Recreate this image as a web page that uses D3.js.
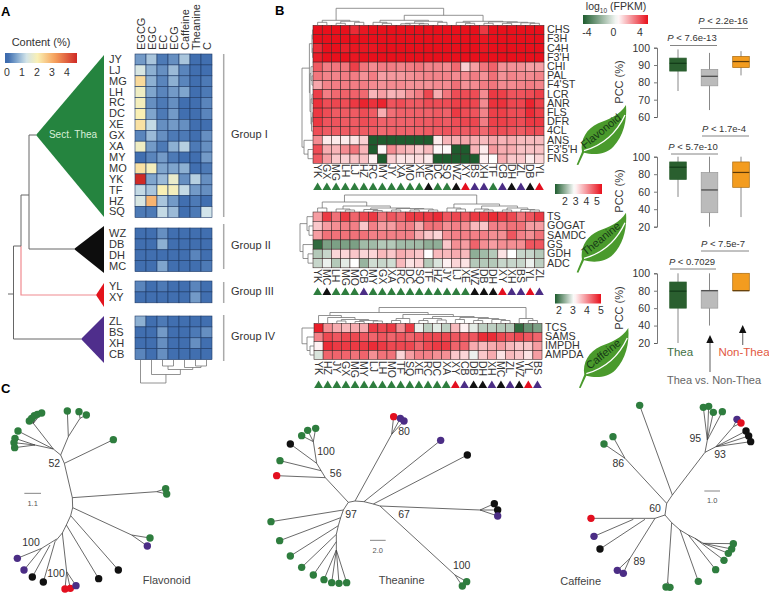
<!DOCTYPE html>
<html><head><meta charset="utf-8">
<script src="https://cdn.jsdelivr.net/npm/d3@7"></script>
<style>html,body{margin:0;background:#fff}svg{display:block;font-family:"Liberation Sans",Arial,sans-serif}text{fill:#333}</style>
</head><body><svg id="c" width="769" height="593"></svg>
<script>
// ---------- Panel A data ----------
const contentCompounds=["EGCG","EGC","EC","ECG","Caffeine","Theanine","C"];
const groupIRows=["JY","LJ","MG","LH","RC","DC","XE","GX","XA","MY","MO","YK","TF","HZ","SQ"];
const groupIIRows=["WZ","DB","DH","MC"];
const groupIIIRows=["YL","XY"];
const groupIVRows=["ZL","BS","XH","CB"];
const groupIValues=[[.6,1,.3,.5,1,.2,.2],[1.4,.8,.5,.9,.4,.2,.2],[2.3,.8,.4,.8,.4,.2,.3],[1.8,.7,.4,.6,.7,.2,.3],[1.9,.5,.3,.5,.2,.2,.4],[2,.7,.3,.6,.2,.2,.4],[2.2,1.2,.5,.6,.5,.2,.2],[.4,.9,.5,.3,.3,.2,.5],[1.8,.6,.3,.8,1.1,.3,.5],[.2,.4,.6,.3,.2,.2,.6],[2.2,1.9,.7,.7,.8,.2,.3],[4.4,.7,.9,1.7,.5,1.1,.5],[1.2,1,2,1.9,1.2,.6,.5],[1.4,2.8,1,.6,.2,.3,.2],[.3,.3,1.2,.9,.2,.3,1.3]];
const groupIIValues=[[.2,.2,.5,.2,.2,.2,.2],[.2,.2,.8,.2,.2,.2,.2],[.2,.2,.2,.2,.2,.4,.2],[.2,.2,.7,.2,.2,.2,.3]];
const groupIIIValues=[[.4,.2,.3,.2,.2,.4,.2],[.2,.2,.2,.2,.2,.6,.2]];
const groupIVValues=[[.8,.2,.3,.2,.2,.2,.2],[.2,.2,.6,.2,.2,.3,.5],[.2,.2,.5,.2,.2,.5,.2],[.4,.2,.5,.2,.2,.2,.2]];
const compoundTree=[23,0,[14.5,1,[9.5,[6,2,3],[7.5,4,[6,5,6]]]]];
const contentTicks=[0,1,2,3,4];
// ---------- Panel B data ----------
const flavonoidCols=["YK","GX","MG","LH","LJ","HZ","RC","MY","JY","XA","MO","XE","MC","DC","SQ","WZ","XY","BS","XH","TF","CB","DH","ZL","DB","YL"];
const flavonoidGenes=["CHS","F3H","C4H","F3'H","CHI","PAL","F4'ST","LCR","ANR","FLS","DFR","4CL","ANS","F3'5'H","FNS"];
const flavonoidValues=[
[3.5,3.6,3.7,3.5,3.1,3.4,3.6,3.6,3.6,3.6,3.6,3.6,3.6,3.5,3.5,3.6,3.5,3.7,2.9,3.5,3.7,3.7,3.7,3.7,3.7],
[3.6,3.8,3.7,3.6,3.5,3.5,3.7,3.8,3.7,3.7,3.7,3.7,3.7,3.6,3.7,3.7,3.7,3.7,3.4,3.7,3.8,3.8,3.8,3.8,3.8],
[3.1,3.5,3.6,3.3,3.4,3.4,3.4,3.6,3.5,3.6,3.5,3.6,3.6,3.5,3.5,3.6,3.5,3.6,3.4,3.6,3.7,3.7,3.7,3.7,3.7],
[3.3,3.7,3.7,3.7,3.4,3.6,3.8,3.8,3.7,3.7,3.6,3.7,3.7,3.6,3.6,3.6,3.6,3.7,3.5,3.7,3.7,3.7,3.7,3.7,3.7],
[2.4,1.9,2,2,2.8,2,1.7,1.9,1.9,1.8,1.9,2,1.8,1.8,1.7,2.2,.7,1.4,2,2.3,1.6,1.6,1.6,1.4,1.4],
[2,1.8,1.8,1.9,1.9,1.6,1.9,1.4,1.5,1.5,1.6,1.7,1.8,1.8,1.8,1.7,1.7,1.9,1.6,2.1,1.6,1.8,1.7,1.7,1.8],
[1.3,1.8,1.9,1.9,1.9,1.9,1.7,1.6,1.7,1.7,1.6,1.6,1.6,1.7,1.7,2.1,1.6,1.7,1.9,2,1.7,1.7,1.8,1.9,1.8],
[2.8,1.9,2.2,2.3,2.3,2.2,1.1,1.4,1.1,1.2,1.6,1.9,2.7,1.2,2,2.6,2.6,2.6,1.7,2.9,2.8,2.5,2.5,2.6,2.8],
[3,2.6,2.7,2.6,2.9,3.2,3,3.2,2.5,2.6,2.4,2.4,2.6,2.6,2.6,2.8,2.8,2.7,1.7,3,3,2.7,2.7,3.2,2.8],
[2.9,2.6,2.4,2.4,2.4,2.6,2.4,1.2,2.1,2.3,2.3,2.3,2.3,2.4,2.3,2.9,2.6,2.5,1.8,2.8,2.8,2.6,2.6,3.1,2.8],
[2.9,2.5,2.5,2.4,2.4,2.6,2.5,2.3,2.3,2.3,2.3,2.4,2.4,2.5,2.4,2.6,2.7,2.7,1.9,2.8,2.8,2.7,2.6,2.9,2.9],
[2.6,2.4,2.4,2.4,2.4,2.4,2.4,2.2,2.3,2.3,2.3,2.3,2.4,2.4,2.5,2.5,2.4,2.5,2.2,2.6,2.6,2.5,2.4,2.6,2.6],
[1.7,.3,.3,.3,.4,.7,-4,-4,-4,-4,-4,-4,-4,.3,1.1,1.2,1.3,1.2,1,1.3,1.1,1.2,1,1,1],
[2.6,1.2,1.1,1.7,2,1.1,-4,.1,1.7,1.2,1,.7,1,.1,.1,-4,-4,1.1,.3,1.5,1.2,1.2,.9,.9,.9],
[2.4,1.4,.8,.7,.9,.9,.2,-4,.7,.4,.4,.5,.3,-4,-4,-4,-4,-4,.2,0,1.2,.8,.8,.3,.6]];
const flavonoidColTree=[17,[5,[3,0,1],[4,[2,2,3],[3,4,5]]],[10,[5,[3,6,[2,7,8]],[4,[2,[1.5,9,10],[1.5,11,12]],[3,13,14]]],[4,[3,15,[2,16,17]],[3.5,[2,18,19],[3,[2,20,21],[2.5,22,[2,23,24]]]]]]];
const flavonoidRowTree=[11,[3.6,[1,[.5,0,1],[.5,2,3]],[3,[2,4,[1,5,6]],[2,[1,7,8],[1.5,[.6,9,10],11]]]],[9,12,[5,13,14]]];
const theanineCols=["YK","MC","LH","MG","MO","CB","MY","GX","XA","RC","DC","SQ","TF","HZ","JY","LJ","XE","WZ","DB","DH","XY","XH","BS","YL","ZL"];
const theanineGenes=["TS","GOGAT","SAMDC","GS","GDH","ADC"];
const theanineValues=[
[3.9,4.6,4.2,4.6,4.3,4.5,4.6,4.2,4.4,4.3,4.6,4.6,4.6,4.7,4.4,4.5,4.4,4.6,4.6,4.7,4.6,4.5,4.2,4.4,4.6],
[3.6,3.9,4,4.1,4.1,3.6,4.1,3.9,3.9,4.1,4.1,3.8,4.2,4.2,4,4.1,4,3.7,3.6,4.1,4.1,4.2,4.2,3.9,3.9],
[3.9,4.2,4.2,4.2,4.2,4.2,4.1,4.1,4.1,4.1,4.1,3.8,3.6,3.5,4,4.1,4.1,4.1,4.1,4,4,4.4,4.1,4,4.2],
[2.1,2.5,2.5,2.5,2.5,2.7,2.7,2.8,2.8,2.7,2.7,2.7,2.6,2.6,3.6,4,3.9,4.3,4,3.9,4,4,4,4.4,4.4],
[2.8,2.9,3.5,3.5,3.6,3.5,3.5,3.7,3.6,3.8,3.7,3.6,3.2,3.7,3.7,3.8,3.7,2.6,2.7,2.8,3.4,3.2,2.9,2.9,2.8],
[2.9,3.1,2.8,3.05,3.2,2.65,2.95,2.9,2.95,3.7,3.4,3.5,2.8,3,3.3,3.5,3.4,2.8,2.8,2.8,2.9,2.9,2.9,3.1,2.85]];
const theanineColTree=[17,[10,[4,0,1],[6,[3,2,[2,3,4]],[4,[2.5,5,[1.5,6,7]],[3.5,[2,8,9],[3,[2,10,11],[2,12,13]]]]]],[8,[4,14,[3,15,16]],[6,[3,17,[2,18,19]],[4,[2,20,21],[2.5,22,[2,23,24]]]]]];
const theanineRowTree=[13,[6,0,[4,1,2]],[10,3,[5,4,5]]];
const caffeineCols=["YK","HZ","JY","GX","MG","MY","LJ","LH","MO","TF","SQ","XE","RC","DC","XA","XY","CB","DB","DH","XH","MC","ZL","WZ","YL","BS"];
const caffeineGenes=["TCS","SAMS","IMPDH","AMPDA"];
const caffeineValues=[
[4.8,4,3.8,3.7,3.8,3.8,4.6,4.5,4.6,4,4.6,3.1,2.85,3.05,2.85,3.7,3.3,3.05,2.85,2.85,2.8,2.8,2.1,2.4,2.5],
[4.1,4.5,4.4,4.5,4.5,4.4,4.3,4.4,4.3,4.4,4.3,4.4,4.5,4.5,4.5,4.4,4.4,4.4,4.7,4.7,4.5,4.4,4.5,4.4,4.3],
[3.3,4.7,4.6,4.6,4.6,4.6,4.7,4.6,4.5,4.5,4.5,4.3,4.5,4.6,4.6,4.3,4.3,3.8,3.7,3.8,3.9,3.7,3.6,3.6,3.9],
[3,4.3,4.3,4.3,4.2,4.3,4,4.2,4.2,3.5,3.9,4.1,4.1,4,4,3.6,3.5,3.1,3.6,3.8,3.4,3.7,3.6,3.4,3.9]];
const caffeineColTree=[16,[11,[8,0,[6,1,[4,[2.5,2,3],[3,[2,4,5],[2.5,6,7]]]]],[9,[5,[3,8,9],10],[7,[5,[3,11,12],[3.5,13,14]],[6,[4,15,16],[5,[3,17,18],[4,19,[3,20,21]]]]]]],[5,22,[3,23,24]]];
const caffeineRowTree=[12,0,[7,1,[4,2,3]]];
const sampleGroups={JY:"g",LJ:"g",MG:"g",LH:"g",RC:"g",DC:"g",XE:"g",GX:"g",XA:"g",MY:"g",MO:"g",YK:"g",TF:"g",HZ:"g",SQ:"g",WZ:"k",DB:"k",DH:"k",MC:"k",YL:"r",XY:"r",ZL:"p",BS:"p",XH:"p",CB:"p"};
// ---------- Box plots ----------
const boxGroups=["Thea","Thea vs. Non-Thea","Non-Thea"];
const flavonoidBoxes=[[75,86.5,91,94,99],[64,78,83.5,87.5,97],[84,88.5,92,95,98]];
const theanineBoxes=[[54,74,88,94,100],[20,36,62,82,100],[31,65,82,94,100]];
const caffeineBoxes=[[20,60,79.5,90,100],[40,60,80,80.5,100],[80,80,80,100,100]];
// ---------- Panel C trees (tree units: three per pixel) ----------
const flavBackbone=[[182,240],[193,265],[217,368],[218,398],[212,422],[199,450],[187,474],[165,500]];
const flavBranches=[[217,368,470,350],[218,398,395,480],[187,474,200,590],[182,240,160,222],[160,222,100,145],[160,222,105,210],[182,240,205,185],[205,185,240,130],[170,492,125,520]];
const flavTips=[[193,265,340,194,"g"],[470,350,497,341,"g"],[470,350,500,357,"g"],[395,480,450,489,"g"],[395,480,442,513,"p"],[212,422,355,585,"k"],[199,450,296,611,"k"],[200,590,195,642,"r"],[200,590,211,640,"r"],[200,590,228,632,"p"],[165,500,130,621,"k"],[150,510,97,606,"k"],[125,520,52,550,"p"],[125,520,72,585,"p"],[100,145,88,138,"g"],[100,145,95,130,"g"],[100,145,103,122,"g"],[100,145,112,118,"g"],[100,145,125,114,"g"],[160,222,54,168,"g"],[105,210,45,190,"g"],[105,210,42,203,"g"],[105,210,44,218,"g"],[205,185,202,108,"g"],[240,130,237,110,"g"],[240,130,259,120,"g"]];
const flavLabels=[[52,163,268],[100,93,505],[100,168,598]];
const thBackbone=[[349,525],[349,478],[355,452],[362,428],[370,405],[385,382],[405,378],[432,380],[460,387],[480,393]];
const thBranches=[[385,382,316,308],[316,308,290,265],[405,378,515,178],[480,393,780,405],[480,393,705,600],[290,265,280,200]];
const thTips=[[280,200,287,160,"g"],[280,200,263,166,"g"],[280,200,245,182,"g"],[290,265,211,207,"k"],[303,287,180,257,"g"],[316,308,170,302,"r"],[515,178,521,125,"r"],[515,178,541,130,"p"],[515,178,552,138,"p"],[432,380,662,196,"p"],[460,387,742,240,"k"],[780,405,823,386,"k"],[780,405,833,405,"k"],[780,405,833,423,"p"],[705,600,740,620,"g"],[705,600,727,633,"g"],[370,405,153,440,"g"],[362,428,179,497,"g"],[355,452,211,543,"g"],[349,478,245,577,"g"],[349,500,280,600,"g"],[349,525,312,614,"g"],[349,525,335,623,"g"],[349,525,357,625,"g"],[349,525,380,623,"g"]];
const thLabels=[[100,318,231],[56,347,298],[80,552,171],[97,393,422],[67,552,422],[100,725,573]];
const cafBackbone=[[435,430],[465,420],[470,385],[487,360],[585,232]];
const cafBackbone2=[[465,420],[485,443],[510,465],[535,480],[555,490],[580,505]];
const cafBranches=[[470,385,345,250],[585,232,592,195],[585,232,618,215],[618,215,670,155],[435,430,360,550],[485,443,473,620]];
const cafTips=[[345,250,309,185,"g"],[345,250,282,207,"g"],[487,360,389,91,"g"],[592,195,580,97,"g"],[592,195,596,94,"g"],[592,195,610,112,"g"],[592,195,637,110,"g"],[670,155,681,133,"p"],[670,155,693,144,"r"],[618,215,708,168,"k"],[618,215,716,183,"k"],[618,215,722,200,"k"],[435,430,243,430,"r"],[370,433,252,484,"p"],[405,433,270,522,"k"],[360,550,322,586,"p"],[360,550,340,595,"p"],[473,620,468,636,"g"],[473,620,480,637,"g"],[510,465,565,619,"g"],[535,480,617,584,"g"],[555,490,642,556,"g"],[580,505,655,535,"g"],[580,505,665,522,"g"],[580,505,670,506,"g"]];
const cafLabels=[[95,556,193],[93,630,241],[86,325,268],[60,435,402],[89,388,561]];

const svg=d3.select("#c");
const tipColor={g:"#2e7d3e",k:"#111",r:"#e30f1f",p:"#4b2d85"};
const txt=(g,x,y,s,size,o={})=>g.append("text").attr("x",x).attr("y",y).attr("font-size",size).attr("text-anchor",o.a||"start").attr("dominant-baseline",o.b||"auto").style("fill",o.fill||"#333").attr("font-weight",o.w||null).text(s);
txt(svg,1,16,"A",13,{w:"bold",fill:"#000"});txt(svg,275,15,"B",13,{w:"bold",fill:"#000"});txt(svg,1,393,"C",13,{w:"bold",fill:"#000"});

// ---- Panel A ----
const contentColor=d3.scaleLinear().domain([0,.2,.7,1.3,2,3,4.4]).range(["#3a68ac","#416fb0","#7fa5cd","#d2e4ea","#faf0b4","#f6a55f","#cf2a26"]).clamp(true);
const contentX=d3.scaleBand().domain(contentCompounds).range([135,212]);
function contentHeat(rows,vals,top,bar0,bar1,label){
  const y=d3.scaleBand().domain(rows).range([top,top+rows.length*10.9]);
  const g=svg.append("g");
  rows.forEach((r,i)=>{
    vals[i].forEach((v,j)=>g.append("rect").attr("x",contentX(contentCompounds[j])).attr("y",y(r)).attr("width",contentX.bandwidth()).attr("height",y.bandwidth()).attr("fill",contentColor(v)).attr("stroke","#1f3a66").attr("stroke-width",.6));
    txt(g,109,y(r)+y.bandwidth()/2+.5,r,11,{b:"middle"});
  });
  g.append("line").attr("x1",223.7).attr("x2",223.7).attr("y1",bar0).attr("y2",bar1).attr("stroke","#aaa").attr("stroke-width",1.5);
  txt(g,231,(bar0+bar1)/2-.5,label,11,{b:"middle"});
}
contentHeat(groupIRows,groupIValues,54,54,217,"Group I");
contentHeat(groupIIRows,groupIIValues,228,224,269,"Group II");
contentHeat(groupIIIRows,groupIIIValues,281,282,303,"Group III");
contentHeat(groupIVRows,groupIVValues,316,315,361,"Group IV");
contentCompounds.forEach(c=>svg.append("text").attr("transform",`translate(${contentX(c)+contentX.bandwidth()/2+4},50) rotate(-90)`).attr("font-size",11).text(c));
// legend A
const defs=svg.append("defs");
function gradient(id,color,d0,d1){const g=defs.append("linearGradient").attr("id",id);d3.range(0,21).forEach(i=>{const t=i/20;g.append("stop").attr("offset",t).attr("stop-color",color(d0+(d1-d0)*t));});}
gradient("gA",contentColor,0,4.4);
const contentLegX=d3.scaleLinear().domain([0,4]).range([7,67]);
svg.append("rect").attr("x",5).attr("y",53).attr("width",72).attr("height",10).attr("fill","url(#gA)");
contentTicks.forEach(t=>txt(svg,contentLegX(t),76,t,10.5,{a:"middle"}));
txt(svg,41,46,"Content (%)",11,{a:"middle"});
// clade triangles
[[36,135,55,217,"#25843f"],[74,249,226,273,"#0d0d0d"],[96,295,283,307,"#e3131c"],[81,339,316,363,"#4f2e8c"]].forEach(t=>svg.append("path").attr("d",`M${t[0]},${t[1]}L104,${t[2]}L104,${t[3]}Z`).attr("fill",t[4]));
txt(svg,73,135,"Sect. Thea",10,{a:"middle",b:"middle",fill:"#d8efd8"});
const seg=(pts,col,w=1)=>svg.append("path").attr("d",d3.line()(pts)).attr("fill","none").attr("stroke",col).attr("stroke-width",w);
seg([[36,135],[29,135],[29,249],[74,249]],"#666");
seg([[29,195],[21,195],[21,246]],"#666");
seg([[21,246],[21,295],[96,295]],"#f08a90",1.2);
seg([[21,246],[13.5,246],[13.5,339],[81,339]],"#666");
seg([[8,294],[13.5,294]],"#666");

// generic dendrogram
function dendro(tree,pos,val){
  const g=svg.append("g").attr("fill","none").attr("stroke","#777").attr("stroke-width",.8);
  function rec(n){
    if(typeof n==="number")return{p:pos(n),h:0};
    const a=rec(n[1]),b=rec(n[2]),m=(a.p+b.p)/2;
    g.append("path").attr("d",d3.line()(val(a,b,n[0])));
    return{p:m,h:n[0]};
  }
  rec(tree);
}
function colTree(tree,xs,base,sign){
  const h=d3.scaleLinear().domain([0,30]).range([base,base+sign*30]);
  dendro(tree,i=>xs(i),(a,b,t)=>[[a.p,h(a.h)],[a.p,h(t)],[b.p,h(t)],[b.p,h(b.h)]]);
}
const compoundPos=i=>contentX(contentCompounds[i])+contentX.bandwidth()/2;
colTree(compoundTree,compoundPos,360,1);

// ---- Panel B heatmaps ----
const logColor=d3.scaleLinear().domain([-4,0,3.5]).range(["#1e5c2e","#ffffff","#e8101c"]).clamp(true);
const fpkmColor=d3.scaleLinear().domain([2,3.2,4.9]).range(["#1e5c2e","#ffffff","#e8101c"]).clamp(true);
function heat(cols,genes,vals,color,x0,x1,top,rowH,labelY,triY,ct,rt){
  const x=d3.scaleBand().domain(d3.range(cols.length)).range([x0,x1]);
  const y=d3.scaleBand().domain(d3.range(genes.length)).range([top,top+rowH*genes.length]);
  const g=svg.append("g");
  vals.forEach((row,i)=>row.forEach((v,j)=>g.append("rect").attr("x",x(j)).attr("y",y(i)).attr("width",x.bandwidth()).attr("height",y.bandwidth()).attr("fill",color(v)).attr("stroke","#3a2626").attr("stroke-width",.55)));
  genes.forEach((s,i)=>txt(g,x1+3,y(i)+rowH/2+.5,s,10.8,{b:"middle"}));
  cols.forEach((c,j)=>{
    g.append("text").attr("transform",`translate(${x(j)+x.bandwidth()/2-3.7},${labelY}) rotate(90)`).attr("font-size",10.5).text(c);
    g.append("path").attr("transform",`translate(${x(j)+x.bandwidth()/2},${triY}) `).attr("d",d3.symbol(d3.symbolTriangle,34)()).attr("fill",tipColor[sampleGroups[c]]);
  });
  colTree(ct,i=>x(i)+x.bandwidth()/2,top,-1);
  const hs=d3.scaleLinear().domain([0,30]).range([x0,x0-30]);
  dendro(rt,i=>y(i)+rowH/2,(a,b,t)=>[[hs(a.h),a.p],[hs(t),a.p],[hs(t),b.p],[hs(b.h),b.p]]);
}
heat(flavonoidCols,flavonoidGenes,flavonoidValues,logColor,313,544,25.3,9.2,164,187.5,flavonoidColTree,flavonoidRowTree);
heat(theanineCols,theanineGenes,theanineValues,fpkmColor,313,544,212,9.3,269,292.5,theanineColTree,theanineRowTree);
heat(caffeineCols,caffeineGenes,caffeineValues,fpkmColor,314,542,323.5,9,361,385.5,caffeineColTree,caffeineRowTree);
// legends B
gradient("gL",logColor,-4,3.5);gradient("gF",fpkmColor,2,4.9);
const logTicks=[-4,0,4],fpkmTicks=[2,3,4,5];
svg.append("rect").attr("x",583).attr("y",15).attr("width",65).attr("height",9).attr("fill","url(#gL)");
const logX=d3.scaleLinear().domain([-4,4]).range([587,640]);
logTicks.forEach(t=>txt(svg,logX(t),36,t,10.5,{a:"middle"}));
const lt=txt(svg,616,10,"log",10.5,{a:"middle"});
lt.append("tspan").attr("font-size",6.5).attr("dy",2.5).text("10");lt.append("tspan").attr("dy",-2.5).text(" (FPKM)");
svg.append("rect").attr("x",555).attr("y",184).attr("width",47).attr("height",10).attr("fill","url(#gF)");
const f1=d3.scaleLinear().domain([2,5]).range([565,597]);fpkmTicks.forEach(t=>txt(svg,f1(t),205,t,10.5,{a:"middle"}));
svg.append("rect").attr("x",555).attr("y",294).attr("width",46).attr("height",9.5).attr("fill","url(#gF)");
const f2=d3.scaleLinear().domain([2,5]).range([559,601]);fpkmTicks.forEach(t=>txt(svg,f2(t),314,t,10.5,{a:"middle"}));
// leaves
function leaf(dx,dy,name){
  const g=svg.append("g").attr("transform",`translate(${570+dx},${dy}) scale(.3333)`);
  g.append("path").attr("d","M36,455 C30,420 50,385 85,370 C115,358 150,345 168,315 C172,360 160,410 130,440 C105,465 70,465 42,458 L25,495 L20,494 L36,455 Z").attr("fill","#4a9a2c");
  g.append("path").attr("d","M42,452 C85,440 135,410 165,345").attr("fill","none").attr("stroke","#fff").attr("stroke-width",4);
  g.append("text").attr("transform","translate(100,402) rotate(-39)").attr("text-anchor","middle").attr("font-size",33).style("fill","#173a17").text(name);
}
leaf(0,0,"Flavonoid");leaf(0,107.7,"Theanine");leaf(2.3,223,"Caffeine");
// box plots
const boxColors=["#2a5f2f","#bbbbbb","#f39c1f"],boxCenters=[678,709.5,741];
function boxPanel(data,domain,yTop,yBot,ticks,titleY,pA,pB){
  const y=d3.scaleLinear().domain(domain).range([yBot,yTop]);
  const ax=svg.append("g").attr("transform","translate(657,0)").call(d3.axisLeft(y).tickValues(ticks).tickSize(3).tickPadding(4));
  ax.selectAll("text").attr("font-size",10.5).style("fill","#333").style("font-family","inherit");
  ax.selectAll("path,line").attr("stroke","#555").attr("stroke-width",.8);
  data.forEach((d,i)=>{
    const c=boxCenters[i];
    svg.append("line").attr("x1",c).attr("x2",c).attr("y1",y(d[0])).attr("y2",y(d[4])).attr("stroke","#888").attr("stroke-width",1);
    svg.append("rect").attr("x",c-8.3).attr("width",16.6).attr("y",y(d[3])).attr("height",y(d[1])-y(d[3])).attr("fill",boxColors[i]).attr("stroke",i==2?"#a86a10":i==1?"#999":"#2a5f2f").attr("stroke-width",.7);
    svg.append("line").attr("x1",c-8.3).attr("x2",c+8.3).attr("y1",y(d[2])).attr("y2",y(d[2])).attr("stroke",i==0?"#123a18":i==1?"#444":"#5c3a08").attr("stroke-width",1.2);
  });
  svg.append("text").attr("transform",`translate(623,${titleY}) rotate(-90)`).attr("text-anchor","middle").attr("font-size",11).text("PCC (%)");
  [pA,pB].forEach(p=>{
    const t=txt(svg,p[0],p[1],"",9.5,{a:"middle"});
    t.append("tspan").attr("font-style","italic").text("P");t.append("tspan").text(" < "+p[2]);
    svg.append("line").attr("x1",p[3]).attr("x2",p[4]).attr("y1",p[1]+4.5).attr("y2",p[1]+4.5).attr("stroke","#777").attr("stroke-width",.9);
  });
}
boxPanel(flavonoidBoxes,[60,100],47.7,117,[60,70,80,90,100],82,[692,41,"7.6e-13",670,717],[723,24,"2.2e-16",700,748]);
boxPanel(theanineBoxes,[20,100],156.7,226.7,[20,40,60,80,100],191,[693,149.5,"5.7e-10",671,718],[724,131.5,"1.7e-4",702,749]);
boxPanel(caffeineBoxes,[20,100],273.3,343,[20,40,60,80,100],308,[692,264.5,"0.7029",670,716],[723,246.5,"7.5e-7",701,749]);
[[710,335,372],[742.7,325,345]].forEach(a=>{
  svg.append("line").attr("x1",a[0]).attr("x2",a[0]).attr("y1",a[1]+6).attr("y2",a[2]).attr("stroke","#777").attr("stroke-width",1.2);
  svg.append("path").attr("d",`M${a[0]},${a[1]}l3.7,8l-7.4,0Z`).attr("fill","#111");
});
txt(svg,680,356,"Thea",11.5,{a:"middle",fill:"#3f6f45"});
txt(svg,744,356,"Non-Thea",11.5,{a:"middle",fill:"#e2583e"});
txt(svg,714,384,"Thea vs. Non-Thea",11,{a:"middle",fill:"#666"});

// ---- Panel C ----
function tree(ox,oy,w,h,backbones,branches,tips,labels,scaleBar,title){
  const x=d3.scaleLinear().domain([0,w]).range([ox,ox+w/3]);
  const y=d3.scaleLinear().domain([0,h]).range([oy,oy+h/3]);
  const line=d3.line().x(d=>x(d[0])).y(d=>y(d[1]));
  const g=svg.append("g");
  const st=s=>s.attr("fill","none").attr("stroke","#444").attr("stroke-width",.8);
  backbones.forEach(b=>st(g.append("path").attr("d",line(b))));
  branches.forEach(b=>st(g.append("path").attr("d",line([[b[0],b[1]],[b[2],b[3]]]))));
  tips.forEach(b=>st(g.append("path").attr("d",line([[b[0],b[1]],[b[2],b[3]]]))));
  tips.forEach(b=>g.append("circle").attr("cx",x(b[2])).attr("cy",y(b[3])).attr("r",3.7).attr("fill",tipColor[b[4]]));
  labels.forEach(l=>txt(g,x(l[1]),y(l[2]),l[0],10.5,{a:"middle",b:"middle"}));
  g.append("line").attr("x1",x(scaleBar[0])).attr("x2",x(scaleBar[1])).attr("y1",y(scaleBar[2])).attr("y2",y(scaleBar[2])).attr("stroke","#777").attr("stroke-width",.9);
  txt(g,x((scaleBar[0]+scaleBar[1])/2),y(scaleBar[2]+31),scaleBar[3],7.5,{a:"middle",b:"middle",fill:"#555"});
  txt(g,x(title[1]),y(title[2]),title[0],11,{a:"middle",b:"middle",fill:"#444"});
}
tree(0,375,660,654,[flavBackbone],flavBranches,flavTips,flavLabels,[73,123,355,"1.1"],["Flavonoid",500,618]);
tree(220,375,840,654,[thBackbone],thBranches,thTips,thLabels,[450,497,496,"2.0"],["Theanine",545,618]);
tree(510,375,777,654,[cafBackbone,cafBackbone2],cafBranches,cafTips,cafLabels,[583,630,348,"1.0"],["Caffeine",212,620]);
</script></body></html>
